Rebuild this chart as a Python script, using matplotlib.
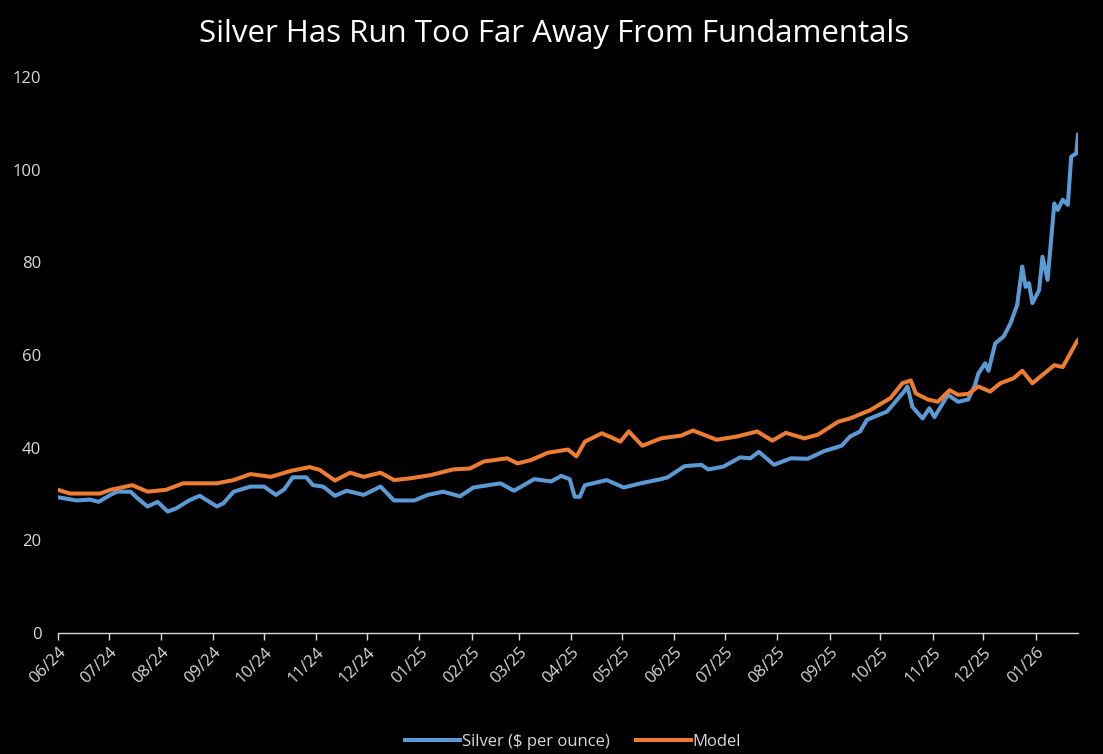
import matplotlib
matplotlib.use("Agg")
import matplotlib.pyplot as plt
import matplotlib.dates as mdates
import pandas as pd

# values
silver_dates = [
    "2024-06-01", "2024-06-12", "2024-06-20", "2024-06-25", "2024-07-02", "2024-07-06",
    "2024-07-14", "2024-07-18", "2024-07-24", "2024-07-30", "2024-08-05", "2024-08-10",
    "2024-08-18", "2024-08-24", "2024-09-03", "2024-09-07", "2024-09-13", "2024-09-23",
    "2024-10-01", "2024-10-08", "2024-10-13", "2024-10-18", "2024-10-26", "2024-10-30",
    "2024-11-05", "2024-11-12", "2024-11-19", "2024-11-29", "2024-12-09", "2024-12-17",
    "2024-12-29", "2025-01-06", "2025-01-15", "2025-01-25", "2025-02-02", "2025-02-18",
    "2025-02-26", "2025-03-10", "2025-03-20", "2025-03-26", "2025-03-31", "2025-04-03",
    "2025-04-06", "2025-04-09", "2025-04-22", "2025-05-02", "2025-05-12", "2025-05-24",
    "2025-05-28", "2025-06-07", "2025-06-17", "2025-06-21", "2025-06-30", "2025-07-10",
    "2025-07-16", "2025-07-21", "2025-07-30", "2025-08-09", "2025-08-19", "2025-08-29",
    "2025-09-08", "2025-09-13", "2025-09-19", "2025-09-23", "2025-10-05", "2025-10-15",
    "2025-10-17", "2025-10-20", "2025-10-26", "2025-10-30", "2025-11-02", "2025-11-10",
    "2025-11-16", "2025-11-22", "2025-11-26", "2025-11-28", "2025-12-02", "2025-12-04",
    "2025-12-08", "2025-12-13", "2025-12-17", "2025-12-21", "2025-12-24", "2025-12-26",
    "2025-12-28", "2025-12-30", "2026-01-03", "2026-01-05", "2026-01-08", "2026-01-12",
    "2026-01-14", "2026-01-17", "2026-01-20", "2026-01-22", "2026-01-25", "2026-01-26",
]
silver = [
    29.3, 28.6, 28.8, 28.3, 29.8, 30.5,
    30.5, 29.1, 27.3, 28.3, 26.2, 26.9,
    28.7, 29.6, 27.3, 28.0, 30.5, 31.6,
    31.6, 29.8, 31.0, 33.6, 33.6, 31.9,
    31.6, 29.6, 30.7, 29.8, 31.6, 28.6,
    28.6, 29.8, 30.5, 29.5, 31.4, 32.3,
    30.7, 33.2, 32.7, 33.9, 33.2, 29.4,
    29.4, 31.9, 33.0, 31.4, 32.3, 33.2,
    33.6, 36.0, 36.3, 35.3, 35.9, 37.9,
    37.7, 39.1, 36.3, 37.7, 37.6, 39.3,
    40.4, 42.4, 43.5, 46.0, 47.8, 52.1,
    53.2, 48.8, 46.3, 48.5, 46.6, 51.4,
    49.9, 50.4, 53.5, 56.0, 58.2, 56.6,
    62.5, 64.0, 66.8, 70.8, 79.1, 74.7,
    75.5, 71.2, 74.0, 81.2, 76.2, 92.7,
    91.3, 93.5, 92.4, 102.8, 103.5, 107.5,
]

model_dates = [
    "2024-06-01", "2024-06-08", "2024-06-26", "2024-07-02", "2024-07-15", "2024-07-24",
    "2024-08-04", "2024-08-14", "2024-09-03", "2024-09-13", "2024-09-23", "2024-10-05",
    "2024-10-17", "2024-10-28", "2024-11-03", "2024-11-12", "2024-11-21", "2024-11-29",
    "2024-12-09", "2024-12-17", "2024-12-27", "2025-01-08", "2025-01-21", "2025-01-31",
    "2025-02-08", "2025-02-22", "2025-02-28", "2025-03-08", "2025-03-18", "2025-03-30",
    "2025-04-04", "2025-04-09", "2025-04-19", "2025-04-26", "2025-04-30", "2025-05-05",
    "2025-05-13", "2025-05-24", "2025-06-05", "2025-06-12", "2025-06-26", "2025-07-08",
    "2025-07-20", "2025-07-29", "2025-08-06", "2025-08-17", "2025-08-25", "2025-09-06",
    "2025-09-13", "2025-09-25", "2025-10-07", "2025-10-14", "2025-10-19", "2025-10-22",
    "2025-10-29", "2025-11-04", "2025-11-11", "2025-11-16", "2025-11-22", "2025-11-28",
    "2025-12-05", "2025-12-11", "2025-12-19", "2025-12-24", "2025-12-30", "2026-01-05",
    "2026-01-12", "2026-01-17", "2026-01-22", "2026-01-25", "2026-01-26",
]
model = [
    30.9, 30.1, 30.1, 30.9, 31.9, 30.5,
    30.9, 32.3, 32.3, 33.0, 34.3, 33.7,
    35.0, 35.8, 35.2, 32.9, 34.6, 33.7,
    34.6, 33.0, 33.4, 34.1, 35.3, 35.5,
    37.0, 37.7, 36.6, 37.3, 38.9, 39.6,
    38.1, 41.3, 43.1, 42.0, 41.3, 43.5,
    40.4, 42.0, 42.6, 43.7, 41.7, 42.4,
    43.5, 41.5, 43.2, 42.0, 42.8, 45.6,
    46.3, 48.1, 50.7, 53.9, 54.5, 51.7,
    50.4, 49.9, 52.4, 51.4, 51.6, 53.2,
    52.1, 53.9, 55.0, 56.6, 53.9, 55.7,
    57.8, 57.4, 60.7, 62.7, 63.2,
]

title = "Silver Has Run Too Far Away From Fundamentals"
y_ticks = [0, 20, 40, 60, 80, 100, 120]

BLUE = "#5B9BD5"
ORANGE = "#ED7D31"
GREY = "#D9D9D9"

plt.rcParams["font.family"] = ["Open Sans", "DejaVu Sans"]

fig = plt.figure(figsize=(11.03, 7.54), dpi=100, facecolor="black")
ax = fig.add_axes([0.0526, 0.1605, 0.9247, 0.7374], facecolor="black")

ax.plot(pd.to_datetime(silver_dates), silver, color=BLUE, lw=2.9,
        label="Silver ($ per ounce)", solid_joinstyle="round")
ax.plot(pd.to_datetime(model_dates), model, color=ORANGE, lw=2.9,
        label="Model", solid_joinstyle="round")

ax.set_ylim(0, 120)
ax.set_yticks(y_ticks)
ax.set_xlim(pd.Timestamp("2024-06-01"), pd.Timestamp("2026-01-26"))
ax.xaxis.set_major_locator(mdates.MonthLocator())
ax.xaxis.set_major_formatter(mdates.DateFormatter("%m/%y"))

for side in ["top", "right", "left"]:
    ax.spines[side].set_visible(False)
ax.spines["bottom"].set_color(GREY)
ax.spines["bottom"].set_linewidth(1.0)

ax.tick_params(axis="y", length=0, pad=12, labelsize=12, labelcolor=GREY)
ax.tick_params(axis="x", direction="out", length=5, width=1, color=GREY,
               labelsize=12, labelcolor=GREY, pad=3)
for lab in ax.get_xticklabels():
    lab.set_rotation(45)
    lab.set_ha("right")
    lab.set_rotation_mode("anchor")

fig.suptitle(title, color="white", fontsize=22.5, y=0.975, x=0.502)

leg = ax.legend(loc="upper center", bbox_to_anchor=(0.505, -0.155), ncol=2,
                frameon=False, fontsize=12, handlelength=3.3, handletextpad=0.1,
                columnspacing=1.6)
for t in leg.get_texts():
    t.set_color(GREY)

fig.savefig("out.png", dpi=100, facecolor="black")
